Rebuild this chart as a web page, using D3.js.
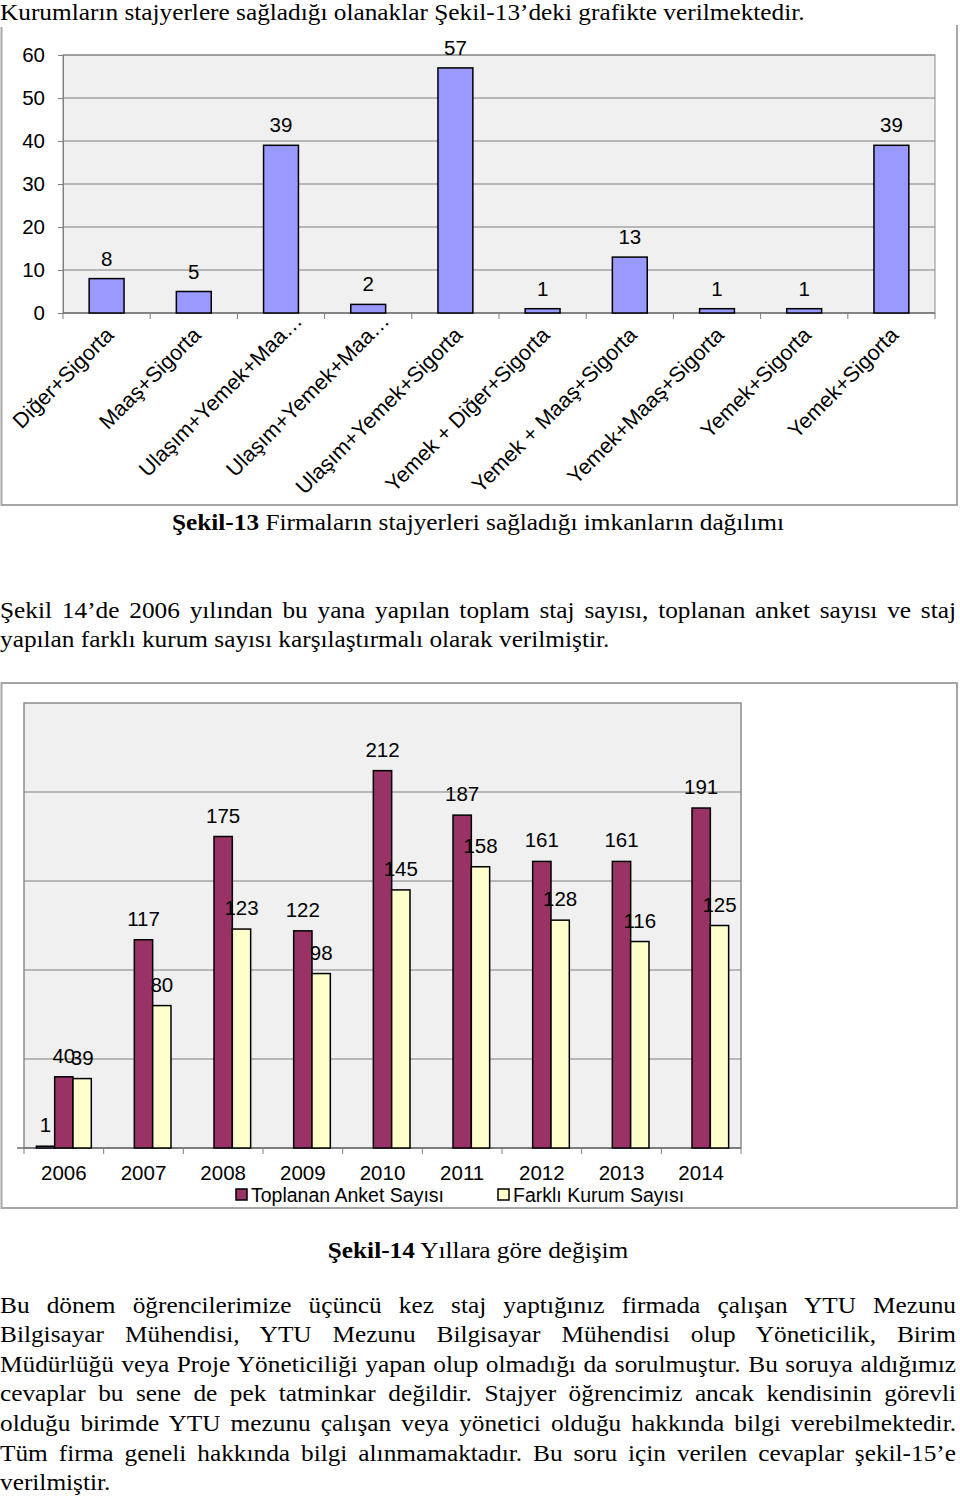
<!DOCTYPE html>
<html>
<head>
<meta charset="utf-8">
<script src="https://cdn.jsdelivr.net/npm/d3@7"></script>
<style>
  body { margin: 0; background: #fff; }
  svg { display: block; }
</style>
</head>
<body>
<div id="page"></div>
<script>
// Sekil-13 data
let imkanlar = [
  'Diğer+Sigorta',
  'Maaş+Sigorta',
  'Ulaşım+Yemek+Maa…',
  'Ulaşım+Yemek+Maa…',
  'Ulaşım+Yemek+Sigorta',
  'Yemek + Diğer+Sigorta',
  'Yemek + Maaş+Sigorta',
  'Yemek+Maaş+Sigorta',
  'Yemek+Sigorta',
  'Yemek+Sigorta'
]
let imkanSayilari = [8, 5, 39, 2, 57, 1, 13, 1, 1, 39]
let yTicks13 = [0, 10, 20, 30, 40, 50, 60]

// Sekil-14 data
let yillar = ['2006', '2007', '2008', '2009', '2010', '2011', '2012', '2013', '2014']
let gizliSeri = [1, null, null, null, null, null, null, null, null]
let anketSayisi = [40, 117, 175, 122, 212, 187, 161, 161, 191]
let kurumSayisi = [39, 80, 123, 98, 145, 158, 128, 116, 125]
let seriAdlari = ['', 'Toplanan Anket Sayısı', 'Farklı Kurum Sayısı']
let yTicks14 = [0, 50, 100, 150, 200, 250]

// text of the page
let ustSatir = 'Kurumların stajyerlere sağladığı olanaklar Şekil-13’deki grafikte verilmektedir.'
let paragraf2 = [
  'Şekil 14’de 2006 yılından bu yana yapılan toplam staj sayısı, toplanan anket sayısı ve staj',
  'yapılan farklı kurum sayısı karşılaştırmalı olarak verilmiştir.'
]
let paragraf3 = [
  'Bu dönem öğrencilerimize üçüncü kez staj yaptığınız firmada çalışan YTU Mezunu',
  'Bilgisayar Mühendisi, YTU Mezunu Bilgisayar Mühendisi olup Yöneticilik, Birim',
  'Müdürlüğü veya Proje Yöneticiliği yapan olup olmadığı da sorulmuştur. Bu soruya aldığımız',
  'cevaplar bu sene de pek tatminkar değildir. Stajyer öğrencimiz ancak kendisinin görevli',
  'olduğu birimde YTU mezunu çalışan veya yönetici olduğu hakkında bilgi verebilmektedir.',
  'Tüm firma geneli hakkında bilgi alınmamaktadır. Bu soru için verilen cevaplar şekil-15’e',
  'verilmiştir.'
]

let pageWidth = 960
let pageHeight = 1498
let serif = '"Liberation Serif", "Times New Roman", serif'
let sans = '"Liberation Sans", Arial, sans-serif'
let bodySize = 24
let hs = 1.055

let svg = d3
  .select('#page')
  .append('svg')
  .attr('width', pageWidth)
  .attr('height', pageHeight)

// ---------- text helpers ----------
function satir(txt, y, justify) {
  let t = svg
    .append('text')
    .attr('transform', 'translate(0,' + y + ') scale(' + hs + ',1)')
    .attr('font-family', serif)
    .attr('font-size', bodySize)
    .attr('fill', '#000')
    .text(txt)
  if (justify) {
    let natural = t.node().getComputedTextLength()
    let spaces = txt.split(' ').length - 1
    let extra = (956 / hs - natural) / spaces
    t.attr('word-spacing', extra)
  }
  return t
}

function baslik(kalin, ince, y) {
  let t = svg
    .append('text')
    .attr('transform', 'translate(478,' + y + ') scale(' + hs + ',1)')
    .attr('text-anchor', 'middle')
    .attr('font-family', serif)
    .attr('font-size', bodySize)
  t.append('tspan').attr('font-weight', 'bold').text(kalin)
  t.append('tspan').text(' ' + ince)
}

satir(ustSatir, 20, false)

// ---------- Sekil-13 ----------
let chart1 = svg.append('g')

chart1
  .append('path')
  .attr('d', 'M1.5,27 V505 H957 V25')
  .attr('fill', 'none')
  .attr('stroke', '#a6a6a6')
  .attr('stroke-width', 2)

let x13 = d3
  .scaleBand()
  .domain(d3.range(imkanlar.length))
  .range([63, 935])
  .paddingInner(0.6)
  .paddingOuter(0.3)

let y13 = d3
  .scaleLinear()
  .domain([0, 60])
  .range([313, 55])

chart1
  .append('rect')
  .attr('x', 63)
  .attr('y', y13(60))
  .attr('width', 935 - 63)
  .attr('height', y13(0) - y13(60))
  .attr('fill', '#f0f0f0')
  .attr('stroke', '#8c8c8c')

chart1
  .selectAll('.grid13')
  .data(yTicks13.slice(1))
  .enter()
  .append('line')
  .attr('class', 'grid13')
  .attr('x1', 63)
  .attr('x2', 935)
  .attr('y1', d => y13(d))
  .attr('y2', d => y13(d))
  .attr('stroke', '#7f7f7f')

let yAxis13 = d3
  .axisLeft(y13)
  .tickValues(yTicks13)
  .tickSize(5)
  .tickPadding(13)
chart1
  .append('g')
  .attr('transform', 'translate(63,0)')
  .call(yAxis13)
  .call(g => g.select('.domain').attr('stroke', '#7f7f7f'))
  .call(g => g.selectAll('.tick line').attr('stroke', '#7f7f7f'))
  .call(g =>
    g
      .selectAll('.tick text')
      .attr('font-family', sans)
      .attr('font-size', 20.5)
      .attr('fill', '#000')
  )

// x axis line and tick marks between categories
chart1
  .append('line')
  .attr('x1', 63)
  .attr('x2', 935)
  .attr('y1', y13(0))
  .attr('y2', y13(0))
  .attr('stroke', '#6f6f6f')
  .attr('stroke-width', 1.5)

chart1
  .selectAll('.tick13')
  .data(d3.range(imkanlar.length + 1))
  .enter()
  .append('line')
  .attr('class', 'tick13')
  .attr('x1', d => x13.range()[0] + d * x13.step())
  .attr('x2', d => x13.range()[0] + d * x13.step())
  .attr('y1', y13(0))
  .attr('y2', y13(0) + 6)
  .attr('stroke', '#7f7f7f')

chart1
  .selectAll('.bar13')
  .data(imkanSayilari)
  .enter()
  .append('rect')
  .attr('class', 'bar13')
  .attr('x', (d, i) => x13(i))
  .attr('y', d => y13(d))
  .attr('width', x13.bandwidth())
  .attr('height', d => y13(0) - y13(d))
  .attr('fill', '#9999ff')
  .attr('stroke', '#000')
  .attr('stroke-width', 1.5)

chart1
  .selectAll('.val13')
  .data(imkanSayilari)
  .enter()
  .append('text')
  .attr('class', 'val13')
  .attr('x', (d, i) => x13(i) + x13.bandwidth() / 2)
  .attr('y', d => y13(d) - 13)
  .attr('text-anchor', 'middle')
  .attr('font-family', sans)
  .attr('font-size', 20.5)
  .text(d => d)

// truncated labels sit a little further along their diagonal, as Excel draws them
chart1
  .selectAll('.cat13')
  .data(imkanlar)
  .enter()
  .append('text')
  .attr('class', 'cat13')
  .attr('transform', (d, i) => {
    let cx = x13(i) + x13.bandwidth() / 2 + 3
    return 'translate(' + cx + ',331) rotate(-45)'
  })
  .attr('text-anchor', 'end')
  .attr('dx', d => (d.endsWith('…') ? 20 : 0))
  .attr('dy', '0.35em')
  .attr('font-family', sans)
  .attr('font-size', 21.5)
  .text(d => d)

baslik('Şekil-13', 'Firmaların stajyerleri sağladığı imkanların dağılımı', 530)

satir(paragraf2[0], 618, true)
satir(paragraf2[1], 647, false)

// ---------- Sekil-14 ----------
let chart2 = svg.append('g')

chart2
  .append('rect')
  .attr('x', 1.5)
  .attr('y', 683)
  .attr('width', 955.5)
  .attr('height', 525)
  .attr('fill', '#fff')
  .attr('stroke', '#a6a6a6')
  .attr('stroke-width', 2)

let x14 = d3
  .scaleBand()
  .domain(yillar)
  .range([24, 741])
  .paddingInner(0.31)
  .paddingOuter(0.155)

let xSeri = d3
  .scaleBand()
  .domain([0, 1, 2])
  .range([0, x14.bandwidth()])

let y14 = d3
  .scaleLinear()
  .domain([0, 250])
  .range([1148, 703])

let renkler = ['#9999ff', '#993366', '#ffffcc']

chart2
  .append('rect')
  .attr('x', 24)
  .attr('y', y14(250))
  .attr('width', 741 - 24)
  .attr('height', y14(0) - y14(250))
  .attr('fill', '#f0f0f0')
  .attr('stroke', '#8c8c8c')
  .attr('stroke-width', 1.5)

chart2
  .selectAll('.grid14')
  .data(yTicks14.slice(1, -1))
  .enter()
  .append('line')
  .attr('class', 'grid14')
  .attr('x1', 24)
  .attr('x2', 741)
  .attr('y1', d => y14(d))
  .attr('y2', d => y14(d))
  .attr('stroke', '#7f7f7f')

chart2
  .append('line')
  .attr('x1', 17)
  .attr('x2', 741)
  .attr('y1', y14(0))
  .attr('y2', y14(0))
  .attr('stroke', '#6f6f6f')
  .attr('stroke-width', 1.5)

chart2
  .selectAll('.tick14')
  .data(d3.range(yillar.length + 1))
  .enter()
  .append('line')
  .attr('class', 'tick14')
  .attr('x1', d => x14.range()[0] + d * x14.step())
  .attr('x2', d => x14.range()[0] + d * x14.step())
  .attr('y1', y14(0))
  .attr('y2', y14(0) + 6)
  .attr('stroke', '#7f7f7f')

let xAxis14 = d3.axisBottom(x14).tickSize(0).tickPadding(17)
chart2
  .append('g')
  .attr('transform', 'translate(0,' + y14(0) + ')')
  .call(xAxis14)
  .call(g => g.select('.domain').remove())
  .call(g =>
    g
      .selectAll('.tick text')
      .attr('font-family', sans)
      .attr('font-size', 20.5)
      .attr('fill', '#000')
  )

let seriler = [gizliSeri, anketSayisi, kurumSayisi]
let noktalar = []
seriler.forEach((values, s) => {
  values.forEach((v, i) => {
    if (v !== null) {
      noktalar.push({ seri: s, yil: yillar[i], deger: v })
    }
  })
})

chart2
  .selectAll('.bar14')
  .data(noktalar)
  .enter()
  .append('rect')
  .attr('class', 'bar14')
  .attr('x', d => x14(d.yil) + xSeri(d.seri))
  .attr('y', d => y14(d.deger))
  .attr('width', xSeri.bandwidth())
  .attr('height', d => y14(0) - y14(d.deger))
  .attr('fill', d => renkler[d.seri])
  .attr('stroke', '#000')
  .attr('stroke-width', 1.5)

chart2
  .selectAll('.val14')
  .data(noktalar)
  .enter()
  .append('text')
  .attr('class', 'val14')
  .attr('x', d => x14(d.yil) + xSeri(d.seri) + xSeri.bandwidth() / 2)
  .attr('y', d => y14(d.deger) - 14)
  .attr('text-anchor', 'middle')
  .attr('font-family', sans)
  .attr('font-size', 20.5)
  .text(d => d.deger)

// legend
let legendX = [236, 498]
seriAdlari.slice(1).forEach((ad, i) => {
  let lg = chart2.append('g').attr('transform', 'translate(' + legendX[i] + ',1189)')
  lg.append('rect')
    .attr('width', 11)
    .attr('height', 11)
    .attr('fill', renkler[i + 1])
    .attr('stroke', '#000')
    .attr('stroke-width', 1.5)
  lg.append('text')
    .attr('x', 15)
    .attr('y', 13)
    .attr('font-family', sans)
    .attr('font-size', 19.5)
    .text(ad)
})

baslik('Şekil-14', 'Yıllara göre değişim', 1258)

let baselines = [1313, 1342, 1372, 1401, 1431, 1461, 1490]
paragraf3.forEach((s, i) => {
  satir(s, baselines[i], i < paragraf3.length - 1)
})
</script>
</body>
</html>
